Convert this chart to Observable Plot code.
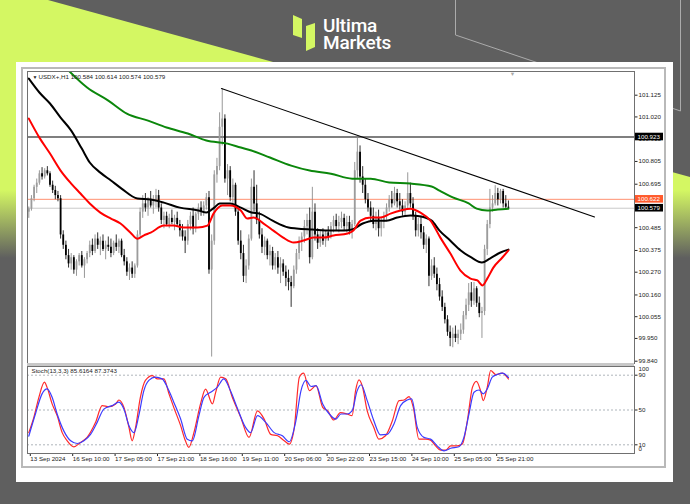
<!DOCTYPE html>
<html>
<head>
<meta charset="utf-8">
<script src="https://cdn.jsdelivr.net/npm/d3@7"></script>
<script src="https://cdn.jsdelivr.net/npm/@observablehq/plot@0.6"></script>
<style>
  html, body { margin:0; padding:0; }
  body { width:690px; height:504px; overflow:hidden; position:relative; background:#5f5f5f; font-family:"Liberation Sans", Arial, sans-serif; }
  .abs { position:absolute; }
  #lime { left:0; top:0; width:690px; height:504px;
    background: linear-gradient(to bottom, #d4f763 0px, #d4f763 190px, #5f5f5f 258px);
    clip-path: polygon(0px 0px, 48px 0px, 1100px 290px, 0px 290px); }
  #panel { left:16px; top:62px; width:657px; height:420px; background:#fff; }
  #win { left:21px; top:67px; width:641px; height:397px; border:2px solid #b9b9b9; }
  #sep { left:27px; top:363px; width:607px; height:3px; background:#c8c8c8; }
  #main, #stoch { left:0; top:0; width:690px; }
</style>
</head>
<body>
<div id="lime" class="abs"></div>
<svg class="abs" style="left:0;top:0" width="690" height="504">
  <polyline points="455.5,0 455.5,35 680.5,111 680.5,0" fill="none" stroke="#ababab" stroke-width="1"/>
  <polygon points="293,15 302,19 302,38 293,35" fill="#d4f763"/>
  <polygon points="306,26 315,23 315,47 306,51" fill="#d4f763"/>
  <text x="323" y="32" fill="#ffffff" font-family="Roboto, 'Open Sans', sans-serif" font-weight="500" font-size="19" letter-spacing="-0.2">Ultima</text>
  <text x="323" y="48.5" fill="#ffffff" font-family="Roboto, 'Open Sans', sans-serif" font-weight="500" font-size="19" letter-spacing="-0.2">Markets</text>
</svg>
<div id="panel" class="abs"></div>
<div id="win" class="abs"></div>
<div id="main" class="abs"></div>
<div id="sep" class="abs"></div>
<div id="stoch" class="abs"></div>
<script>
// ---------- DATA (USDX+, H1) ----------
const opens = [
100.560,100.575,100.625,100.680,100.700,100.745,100.730,100.760,100.745,100.690,
100.665,100.640,100.625,100.450,100.400,100.350,100.310,100.340,100.280,100.320,
100.350,100.300,100.330,100.360,100.400,100.370,100.430,100.400,100.420,100.380,
100.400,100.390,100.360,100.410,100.390,100.420,100.350,100.320,100.270,100.290,
100.260,100.300,100.450,100.560,100.600,100.580,100.620,100.590,100.610,100.640,
100.580,100.520,100.540,100.500,100.530,100.510,100.530,100.500,100.470,100.440,
100.420,100.500,100.540,100.480,100.550,100.580,100.560,100.590,100.630,100.280,
100.420,100.740,100.780,100.970,101.010,100.720,100.760,100.630,100.690,100.560,
100.420,100.360,100.250,100.300,100.430,100.680,100.600,100.520,100.450,100.390,
100.420,100.350,100.370,100.300,100.340,100.290,100.310,100.270,100.240,100.220,
100.200,100.280,100.360,100.420,100.440,100.490,100.520,100.340,100.560,100.450,
100.410,100.450,100.420,100.460,100.440,100.490,100.520,100.490,100.510,100.530,
100.490,100.510,100.470,100.500,100.760,100.850,100.730,100.690,100.620,100.580,
100.540,100.500,100.530,100.480,100.510,100.540,100.580,100.620,100.600,100.650,
100.610,100.590,100.560,100.590,100.650,100.600,100.540,100.470,100.500,100.460,
100.400,100.430,100.250,100.300,100.260,100.210,100.150,100.100,100.040,99.980,
99.950,99.970,99.950,99.970,99.990,100.060,100.110,100.170,100.130,100.190,
100.120,100.070,100.080,100.380,100.500,100.580,100.600,100.650,100.620,100.660,
100.600,100.584];
const highs = [
100.585,100.640,100.690,100.720,100.760,100.775,100.770,100.780,100.755,100.710,
100.685,100.660,100.640,100.470,100.420,100.380,100.360,100.350,100.330,100.360,
100.370,100.340,100.370,100.420,100.430,100.450,100.460,100.440,100.450,100.420,
100.440,100.430,100.420,100.450,100.430,100.430,100.380,100.340,100.310,100.320,
100.310,100.470,100.580,100.640,100.650,100.630,100.660,100.640,100.670,100.665,
100.600,100.560,100.560,100.550,100.570,100.545,100.560,100.520,100.500,100.470,
100.520,100.560,100.580,100.560,100.600,100.610,100.610,100.650,100.660,100.450,
100.760,100.820,101.040,101.157,101.030,100.790,100.780,100.720,100.700,100.580,
100.470,100.400,100.330,100.450,100.720,100.760,100.690,100.560,100.480,100.440,
100.430,100.400,100.390,100.360,100.370,100.340,100.330,100.300,100.280,100.250,
100.300,100.380,100.440,100.460,100.520,100.550,100.580,100.680,100.600,100.480,
100.470,100.480,100.470,100.490,100.510,100.540,100.550,100.540,100.560,100.550,
100.540,100.540,100.520,100.800,100.920,100.880,100.780,100.720,100.650,100.610,
100.580,100.560,100.570,100.530,100.560,100.600,100.640,100.660,100.680,100.670,
100.650,100.620,100.610,100.750,100.700,100.630,100.560,100.530,100.540,100.490,
100.450,100.440,100.330,100.340,100.290,100.240,100.180,100.120,100.060,100.010,
100.000,100.010,99.990,100.020,100.080,100.140,100.215,100.220,100.220,100.200,
100.150,100.100,100.400,100.520,100.670,100.640,100.688,100.675,100.670,100.670,
100.640,100.614];
const lows = [
100.530,100.565,100.610,100.650,100.690,100.715,100.720,100.735,100.680,100.650,
100.620,100.610,100.430,100.380,100.330,100.290,100.280,100.260,100.250,100.300,
100.290,100.240,100.310,100.340,100.350,100.360,100.380,100.350,100.370,100.330,
100.370,100.340,100.350,100.370,100.360,100.340,100.300,100.250,100.230,100.240,
100.240,100.290,100.440,100.530,100.560,100.540,100.580,100.550,100.580,100.560,
100.500,100.480,100.490,100.480,100.500,100.470,100.490,100.440,100.420,100.360,
100.400,100.470,100.450,100.460,100.520,100.540,100.540,100.570,100.260,99.860,
100.400,100.700,100.760,100.880,100.700,100.640,100.610,100.600,100.540,100.400,
100.330,100.220,100.215,100.280,100.420,100.560,100.500,100.430,100.360,100.350,
100.330,100.300,100.280,100.280,100.260,100.215,100.250,100.200,100.180,100.100,
100.190,100.260,100.330,100.370,100.410,100.450,100.310,100.330,100.420,100.380,
100.390,100.400,100.390,100.420,100.430,100.460,100.470,100.460,100.480,100.470,
100.460,100.450,100.430,100.490,100.720,100.700,100.650,100.600,100.560,100.510,
100.480,100.470,100.440,100.440,100.480,100.520,100.560,100.580,100.590,100.580,
100.570,100.540,100.540,100.570,100.580,100.520,100.440,100.440,100.430,100.380,
100.360,100.200,100.230,100.240,100.180,100.130,100.080,100.020,99.960,99.910,
99.905,99.930,99.920,99.940,99.970,100.040,100.080,100.100,100.110,100.100,
100.050,99.950,100.060,100.350,100.480,100.560,100.590,100.590,100.600,100.580,
100.570,100.574];
const closes = [
100.575,100.625,100.680,100.700,100.745,100.730,100.760,100.745,100.690,100.665,
100.640,100.625,100.450,100.400,100.350,100.310,100.340,100.280,100.320,100.350,
100.300,100.330,100.360,100.400,100.370,100.430,100.400,100.420,100.380,100.400,
100.390,100.360,100.410,100.390,100.420,100.350,100.320,100.270,100.290,100.260,
100.300,100.450,100.560,100.600,100.580,100.620,100.590,100.610,100.640,100.580,
100.520,100.540,100.500,100.530,100.510,100.530,100.500,100.470,100.440,100.420,
100.500,100.540,100.480,100.550,100.580,100.560,100.590,100.630,100.280,100.420,
100.740,100.780,100.970,101.010,100.720,100.760,100.630,100.690,100.560,100.420,
100.360,100.250,100.300,100.430,100.680,100.600,100.520,100.450,100.390,100.420,
100.350,100.370,100.300,100.340,100.290,100.310,100.270,100.240,100.220,100.200,
100.280,100.360,100.420,100.440,100.490,100.520,100.340,100.560,100.450,100.410,
100.450,100.420,100.460,100.440,100.490,100.520,100.490,100.510,100.530,100.490,
100.510,100.470,100.500,100.760,100.850,100.730,100.690,100.620,100.580,100.540,
100.500,100.530,100.480,100.510,100.540,100.580,100.620,100.600,100.650,100.610,
100.590,100.560,100.590,100.650,100.600,100.540,100.470,100.500,100.460,100.400,
100.430,100.250,100.300,100.260,100.210,100.150,100.100,100.040,99.980,99.950,
99.970,99.950,99.970,99.990,100.060,100.110,100.170,100.130,100.190,100.120,
100.070,100.080,100.380,100.500,100.580,100.600,100.650,100.620,100.660,100.600,
100.584,100.579];

// moving averages, read as [bar, price]
const maRed = [[0,101.012],[4,100.920],[8,100.843],[12,100.761],[16,100.698],[19.5,100.650],[23,100.602],[27,100.558],[31,100.529],[34.6,100.505],[38.4,100.461],[41,100.432],[43.3,100.447],[46,100.461],[51,100.495],[54.6,100.495],[58.4,100.486],[63.7,100.486],[67.4,100.495],[69.7,100.553],[73,100.592],[76,100.592],[80,100.568],[82.5,100.529],[84.8,100.534],[88.6,100.505],[92.3,100.471],[96,100.437],[100,100.413],[103.7,100.423],[107.4,100.437],[111.2,100.437],[115,100.447],[120.3,100.457],[122.5,100.471],[125.2,100.519],[129,100.534],[132.7,100.534],[136.5,100.553],[140.3,100.568],[144,100.577],[147.8,100.558],[151.6,100.519],[155.3,100.437],[159.1,100.360],[162.9,100.278],[166.7,100.239],[169.3,100.230],[171.2,100.206],[173,100.239],[175.3,100.292],[178.7,100.341],[181,100.375]];
const maBlack = [[0,101.205],[4,101.138],[8,101.085],[12,101.017],[16,100.954],[20,100.867],[23,100.800],[27,100.751],[31,100.713],[35,100.674],[41,100.626],[46,100.621],[51,100.606],[57,100.582],[64,100.568],[67,100.558],[70,100.582],[72,100.602],[76,100.602],[80,100.582],[84,100.558],[87,100.553],[92,100.519],[98,100.486],[101,100.481],[107,100.476],[114,100.471],[119,100.471],[122,100.476],[126,100.505],[130,100.519],[135,100.519],[139,100.534],[144,100.544],[148,100.539],[152,100.519],[155,100.471],[159,100.423],[163,100.375],[167,100.341],[171,100.317],[174,100.336],[178,100.365],[181,100.379]];
const maGreen = [[15,101.244],[22,101.162],[30,101.099],[37,101.036],[45,101.002],[52,100.969],[60,100.940],[67,100.906],[75,100.891],[80,100.872],[84,100.858],[91,100.824],[99,100.785],[106,100.761],[114,100.746],[122,100.722],[129,100.722],[136,100.703],[144,100.698],[152,100.684],[155,100.664],[160,100.631],[166,100.602],[169,100.577],[173,100.568],[177,100.573],[181,100.577]];

// stochastic (13,3,3): main %K (red) and signal %D (blue), read as [bar, value]
const stochMain = [[0,24],[1.9,41.5],[3.8,64.6],[5.9,82],[6.9,76],[8.8,57],[10.7,43.5],[12.6,24],[14.5,14.6],[17,7.7],[19.5,12.7],[22,18.5],[25.2,35.8],[27.7,55],[30.2,53.8],[32.8,57],[34,61.5],[35.9,53],[37.8,30],[39,14.6],[40.3,30],[42.1,64.6],[44,84],[46.6,89.6],[48.4,85.8],[51,85.8],[52.9,68.5],[54.7,53],[57.3,32],[59.1,14.6],[60.4,7],[62.3,24],[64.8,57],[66.7,74],[69.3,57],[70.5,70],[72.4,87.7],[74.3,85.8],[76.8,64.6],[80,41.5],[83.1,18.5],[86.3,49],[88.8,39.6],[91.3,22],[93.9,20.4],[96.4,14.6],[98.3,10.8],[100.2,30],[102.1,87.7],[103.7,92.3],[105.9,72.3],[108.4,78],[110.9,53],[112.8,49],[115.1,38.5],[117.6,47],[120.1,45.4],[122,43.5],[123.3,72],[124.6,84.6],[125.8,78],[127.7,49],[130.2,30],[132.1,16.5],[134.6,20.4],[137.2,37.7],[139.7,60.8],[141.6,61.5],[143.5,65.4],[145.1,53],[147.2,16.5],[149.8,16.5],[151.6,15.4],[153.5,8.8],[155.4,3.8],[157.3,3.8],[159.2,8.8],[161.7,8.8],[163.6,10.8],[165.5,37.7],[167.4,76],[168.9,83],[170.5,72],[171.5,60.8],[173,76],[174.3,95.4],[176.2,90.8],[178.7,92.3],[181,85.6164]];
const stochSignal = [[0,20],[2.5,45.4],[5,68.5],[6.9,74.2],[8.8,64.6],[10.7,45.4],[13.2,26],[15.8,14.6],[18.3,11.5],[20.8,14.6],[23.3,22],[25.8,35.8],[28.3,51],[31.4,55],[34,59],[35.9,51],[37.8,32],[39.7,24],[41.5,43.5],[43.4,72],[45.3,84],[47.8,87.7],[50.3,85.8],[52.9,72],[54.7,59],[57.3,39.6],[59.8,16.5],[61.7,14.6],[64.2,43.5],[66.1,64.6],[68.6,70.4],[71.1,76],[73.6,85.8],[76.1,72],[78.6,53],[81.8,30],[83.7,24],[86.3,43.5],[89.4,35.8],[92.6,24],[95.7,20.4],[98.3,13.5],[100.8,37.7],[102.7,72],[104.6,84],[106.5,77],[108.4,78],[110.9,57],[113.4,45.4],[115.9,39.6],[117.8,45.4],[120.1,45.4],[122,49],[123.9,72],[125.4,79],[127.7,60.8],[130.2,37.7],[132.7,21.5],[135.2,22],[137.8,34],[140.3,55],[142.8,61.5],[144.5,62.7],[146.6,30],[149.1,18.5],[151.6,16.5],[154.1,8.8],[156.7,3],[159.2,6],[162.3,7.7],[164.2,18.5],[166.1,45.4],[168,70.4],[169.9,73],[171.5,68.5],[173,74.2],[174.9,87.7],[176.8,90.8],[178.7,92.3],[181,87.3743]];

// lines and labels
const trendPts = [[72.7,101.157],[213.5,100.537]];
const levelLine = 100.923;
const askLine = 100.622;
const bidLine = 100.579;
const priceTicks = [101.125,101.020,100.915,100.805,100.695,100.590,100.485,100.375,100.270,100.160,100.055,99.950,99.840];
const stochLevels = [90,50,10];
const timeTickBars = [0,16,32,48,64,80,96,112,128,144,160,176];
const timeTickLabels = ["13 Sep 2024","16 Sep 10:00","17 Sep 05:00","17 Sep 21:00","18 Sep 16:00","19 Sep 11:00","20 Sep 06:00","20 Sep 22:00","23 Sep 15:00","24 Sep 10:00","25 Sep 05:00","25 Sep 21:00"];
const symbol = "USDX+,H1";

// ---------- BUILD ----------
const n = Math.min(opens.length, highs.length, lows.length, closes.length);
const bars = d3.range(n).map(k => ({i: k, o: opens[k], h: highs[k], l: lows[k], c: closes[k], up: closes[k] >= opens[k]}));
const pts = a => a.map(([i, v]) => ({i, v}));
const f3 = d3.format(".3f"), f4 = d3.format(".4f");
const last = bars[n - 1];
const xDom = [-0.49, 228.57];
const xEnd = xDom[1];
const FONT = "'Liberation Sans', Arial, sans-serif";
const FS = 6.2;

const boxes = [
  {v: levelLine, bg: "#000000"},
  {v: askLine, bg: "#ff5a2c"},
  {v: bidLine, bg: "#000000"}
];

const mainPlot = Plot.plot({
  width: 690, height: 363,
  marginTop: 71, marginBottom: 0, marginLeft: 27, marginRight: 56,
  x: {domain: xDom, axis: null},
  y: {domain: [99.8289, 101.2395], axis: null},
  style: {background: "transparent", overflow: "visible", fontFamily: FONT},
  marks: [
    Plot.axisY(priceTicks, {anchor: "right", tickSize: 2.5, tickPadding: 1.5, tickFormat: f3, fontSize: FS, color: "#222", label: null}),
    Plot.ruleY([bidLine], {stroke: "#c9c9c9", strokeWidth: 1}),
    Plot.ruleY([askLine], {stroke: "#ff9070", strokeWidth: 1}),
    Plot.ruleY([levelLine], {stroke: "#000", strokeWidth: 1.2}),
    Plot.ruleX(bars, {x: "i", y1: "l", y2: "h", stroke: d => d.up ? "#8c8c8c" : "#1a1a1a", strokeWidth: 0.9}),
    Plot.ruleX(bars, {x: "i", y1: "o", y2: "c", stroke: d => d.up ? "#9c9c9c" : "#000000", strokeWidth: 1.8}),
    Plot.line(pts(maGreen), {x: "i", y: "v", stroke: "#0b870b", strokeWidth: 2, curve: "monotone-x", clip: true}),
    Plot.line(pts(maBlack), {x: "i", y: "v", stroke: "#000", strokeWidth: 2, curve: "monotone-x", clip: true}),
    Plot.line(pts(maRed), {x: "i", y: "v", stroke: "#ff0000", strokeWidth: 2, curve: "monotone-x", clip: true}),
    Plot.line(pts(trendPts), {x: "i", y: "v", stroke: "#000", strokeWidth: 1.1}),
    Plot.rect(boxes, {x1: xEnd, x2: xEnd, y1: "v", y2: "v", insetLeft: 1, insetRight: -29, insetTop: -3.8, insetBottom: -3.8, fill: "bg"}),
    Plot.text(boxes, {x: xEnd, y: "v", text: d => f3(d.v), dx: 3, textAnchor: "start", fill: "#fff", fontSize: FS}),
    Plot.text(["\u25BC"], {frameAnchor: "top-left", dx: 5, dy: 4, lineAnchor: "top", fontSize: 5, fill: "#222"}),
    Plot.text([`${symbol} ${[last.o, last.h, last.l, last.c].map(f3).join(" ")}`], {frameAnchor: "top-left", dx: 11, dy: 3.2, lineAnchor: "top", textAnchor: "start", fontSize: FS, fill: "#222"}),
    Plot.text(["\u25BC"], {x: n + 0.5, frameAnchor: "top", dy: 0.5, lineAnchor: "top", fontSize: 5.5, fill: "#a8a8a8"}),
    Plot.frame({stroke: "#707070"})
  ]
});
document.getElementById("main").appendChild(mainPlot);

const stochPlot = Plot.plot({
  width: 690, height: 475,
  marginTop: 366, marginBottom: 22, marginLeft: 27, marginRight: 56,
  x: {domain: xDom, axis: null},
  y: {domain: [0, 100], axis: null},
  style: {background: "transparent", overflow: "visible", fontFamily: FONT},
  marks: [
    Plot.ruleY(stochLevels, {stroke: "#9aa2aa", strokeWidth: 0.8, strokeDasharray: "2,2"}),
    Plot.axisY(stochLevels, {anchor: "right", tickSize: 2.5, tickPadding: 1.5, fontSize: FS, color: "#222", label: null}),
    Plot.text([100], {y: d => d, frameAnchor: "right", text: d => String(d), dx: 4, dy: 3, textAnchor: "start", fontSize: FS, fill: "#222"}),
    Plot.text([0], {y: d => d, frameAnchor: "right", text: d => String(d), dx: 4, dy: -4, textAnchor: "start", fontSize: FS, fill: "#222"}),
    Plot.line(pts(stochMain), {x: "i", y: "v", stroke: "#ff2a2a", strokeWidth: 1.2, curve: "monotone-x"}),
    Plot.line(pts(stochSignal), {x: "i", y: "v", stroke: "#3c3cff", strokeWidth: 1.2, curve: "monotone-x"}),
    Plot.axisX(timeTickBars, {anchor: "bottom", tickSize: 3, tickPadding: 0, tickFormat: d => timeTickLabels[timeTickBars.indexOf(d)], textAnchor: "start", dx: 1.5, fontSize: FS, color: "#222", label: null}),
    Plot.text([`Stoch(13,3,3) ${f4(stochMain[stochMain.length - 1][1])} ${f4(stochSignal[stochSignal.length - 1][1])}`], {frameAnchor: "top-left", dx: 4, dy: 2, lineAnchor: "top", textAnchor: "start", fontSize: FS, fill: "#222"}),
    Plot.frame({stroke: "#707070"})
  ]
});
document.getElementById("stoch").appendChild(stochPlot);
</script>
</body>
</html>
